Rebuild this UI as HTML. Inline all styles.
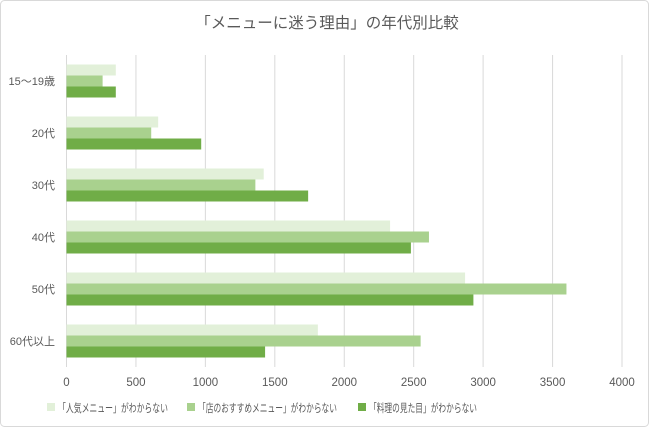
<!DOCTYPE html>
<html><head><meta charset="utf-8"><style>
body{margin:0;background:#fff;}
svg{display:block;font-family:"Liberation Sans","Noto Sans CJK JP",sans-serif;}
</style></head><body>
<svg id="c" width="650" height="428">
<rect x="0.5" y="0.5" width="648" height="426" rx="4" fill="#fff" stroke="#d9d9d9"/>
<text x="327" y="28" text-anchor="middle" font-size="15.5" fill="#595959">「メニューに迷う理由」の年代別比較</text>
<g id="grid"></g><g id="bars"></g><g id="labels"></g><g id="legend"></g>
</svg>
<script>
const categories=["15～19歳","20代","30代","40代","50代","60代以上"];
const seriesNames=["「人気メニュー」がわからない","「店のおすすめメニュー」がわからない","「料理の見た目」がわからない"];
const popular=[355,660,1420,2330,2870,1810];
const recommended=[260,610,1360,2610,3600,2550];
const appearance=[355,970,1740,2480,2930,1430];
const ticks=[0,500,1000,1500,2000,2500,3000,3500,4000];
const colors=["#e2f0d9","#a9d18e","#70ad47"];
const NS="http://www.w3.org/2000/svg";
const x0=66.5,x1=622,yTop=55,yBottom=367;
const band=(yBottom-yTop)/categories.length, bh=11;
function xs(v){return x0+v/4000*(x1-x0);}
function mk(t,a,p){const e=document.createElementNS(NS,t);for(const k in a)e.setAttribute(k,a[k]);document.getElementById(p).appendChild(e);return e;}
ticks.forEach(t=>{
 const l=mk("line",{x1:xs(t),x2:xs(t),y1:yTop,y2:yBottom,stroke:"#d9d9d9","stroke-width":1},"grid");
 
 
 const tx=mk("text",{x:xs(t),y:386,"text-anchor":"middle","font-size":11.5,fill:"#595959"},"labels");
 tx.textContent=t;
 
 
});
const series=[popular,recommended,appearance];
categories.forEach((c,i)=>{
 const cy=yTop+band*i+band/2;
 series.forEach((s,j)=>{
  const r=mk("rect",{x:xs(0),y:cy-1.5*bh+j*bh,width:xs(s[i])-xs(0),height:bh,fill:colors[j]},"bars");
  
  
 });
 const tx=mk("text",{x:55,y:cy+4,"text-anchor":"end","font-size":11,fill:"#595959"},"labels");
 tx.textContent=c;
 
 
});
const lx=[47,187,358];
const lw=[110,139,108];
seriesNames.forEach((n,j)=>{
 const r=mk("rect",{x:lx[j],y:403,width:8,height:8,fill:colors[j]},"legend");
 
 
 const t=mk("text",{x:lx[j]+11,y:412,"font-size":11.5,fill:"#595959",textLength:lw[j],lengthAdjust:"spacingAndGlyphs"},"legend");
 t.textContent=n;
 
 
});
</script>
</body></html>
